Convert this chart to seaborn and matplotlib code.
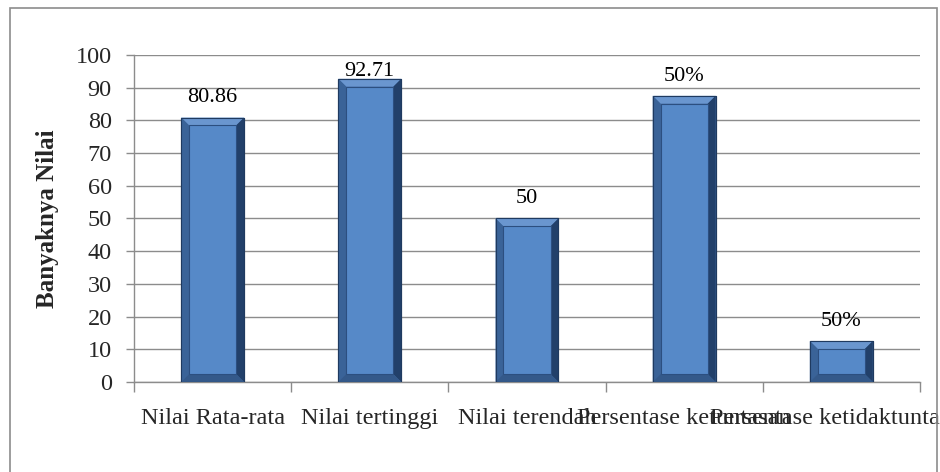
import matplotlib
matplotlib.use('Agg')
import matplotlib.pyplot as plt
import seaborn as sns
import pandas as pd
from matplotlib.patches import Polygon, Rectangle

# data
categories = ['Nilai Rata-rata', 'Nilai tertinggi', 'Nilai terendah',
              'Persentase ketuntasan', 'Persentase ketidaktuntasan']
nilai = [80.86, 92.71, 50, 87.5, 12.5]
label_text = ['80.86', '92.71', '50', '50%', '50%']
y_ticks = list(range(0, 101, 10))

df = pd.DataFrame({'kategori': categories, 'nilai': nilai})

sns.set_theme(style='white')
plt.rcParams['font.family'] = ['Liberation Serif', 'DejaVu Serif']

fig = plt.figure(figsize=(9.4, 4.72), dpi=100)
ax = fig.add_axes([0.1426, 0.1907, 0.836, 0.6928])

ax = sns.barplot(
    data=df,
    x='kategori',
    y='nilai',
    color='#3d679e',
    saturation=1,
    width=0.4,
    edgecolor='#1f3a60',
    linewidth=0.8,
    zorder=3,
    ax=ax
)

ax.set_xlim(-0.5, 4.5)
ax.set_ylim(0, 100)

# excel-ish bevel on each bar
dx, dy = 0.05, 2.4
for p in ax.patches:
    x0 = p.get_x()
    x1 = x0 + p.get_width()
    y1 = p.get_height()
    ix0, ix1, iy0, iy1 = x0 + dx, x1 - dx, dy, y1 - dy
    pieces = [
        ([(x0, y1), (x1, y1), (ix1, iy1), (ix0, iy1)], '#6a96cf'),
        ([(x0, 0), (x0, y1), (ix0, iy1), (ix0, iy0)], '#3a6398'),
        ([(x1, 0), (x1, y1), (ix1, iy1), (ix1, iy0)], '#22406a'),
        ([(x0, 0), (x1, 0), (ix1, iy0), (ix0, iy0)], '#34598a'),
    ]
    for pts, c in pieces:
        ax.add_patch(Polygon(pts, closed=True, facecolor=c,
                             edgecolor='none', zorder=4))
    ax.add_patch(Rectangle((ix0, iy0), ix1 - ix0, iy1 - iy0,
                           facecolor='#5689c8', edgecolor='#2c4f80',
                           linewidth=0.8, zorder=5))
    ax.add_patch(Rectangle((x0, 0), x1 - x0, y1, fill=False,
                           edgecolor='#1f3a60', linewidth=0.8, zorder=6))

# value labels
for i, (v, t) in enumerate(zip(nilai, label_text)):
    ax.text(i, min(v + 6, 94.8), t, ha='center', va='center',
            fontsize=16, color='black', zorder=7)

# axes styling
ax.set_yticks(y_ticks)
ax.yaxis.grid(True, color='#8c8c8c', linewidth=1)
ax.set_axisbelow(True)
for s in ['top', 'right']:
    ax.spines[s].set_visible(False)
for s in ['left', 'bottom']:
    ax.spines[s].set_color('#8c8c8c')
    ax.spines[s].set_linewidth(1)

ax.tick_params(axis='y', left=True, length=6, width=1, color='#8c8c8c',
               pad=10, labelsize=17.5)
ax.set_xticks(range(len(categories)))
ax.set_xticklabels(categories)
ax.set_xticks([i - 0.5 for i in range(len(categories) + 1)], minor=True)
ax.tick_params(axis='x', which='major', bottom=True, length=0, pad=19,
               labelsize=17.5)
ax.tick_params(axis='x', which='minor', bottom=True, length=7, width=1,
               color='#8c8c8c')

ax.set_xlabel('')
ax.set_ylabel('Banyaknya Nilai', fontsize=18, fontweight='bold', labelpad=12)

# outer chart border
fig.add_artist(Rectangle((10 / 940, -0.1), 927 / 940, 1.083,
                         transform=fig.transFigure, fill=False,
                         edgecolor='#8c8c8c', linewidth=1.2))

fig.savefig('out.png', dpi=100)
